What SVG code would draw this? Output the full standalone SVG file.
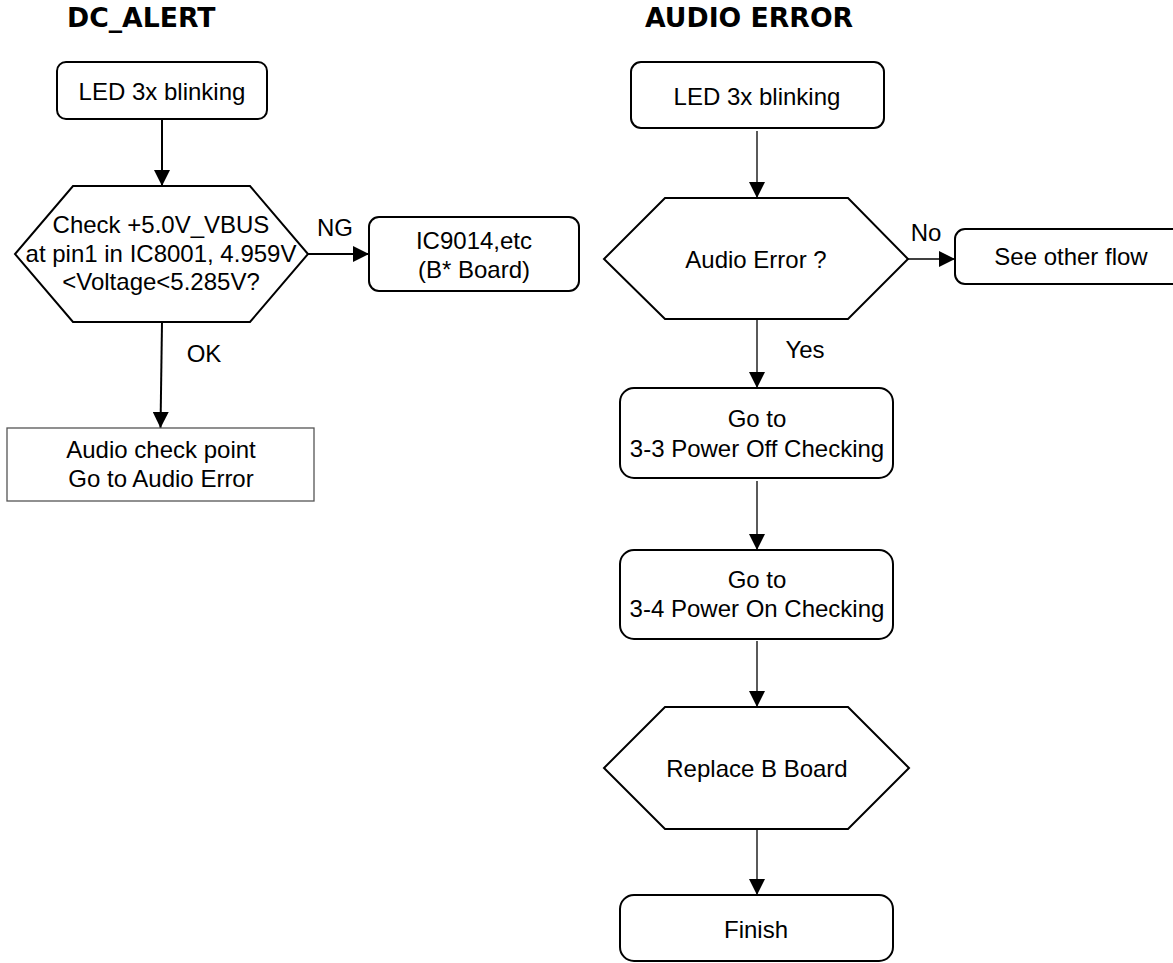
<svg xmlns="http://www.w3.org/2000/svg" width="1173" height="963" viewBox="0 0 1173 963">
<style>
.t{font-family:"Liberation Sans",Arial,sans-serif;font-size:24px;fill:#000;text-anchor:middle}
.h{font-family:"DejaVu Sans",Verdana,sans-serif;font-size:26.7px;font-weight:bold;fill:#000}
.n{fill:#fff;stroke:#000;stroke-width:2}
.c{fill:none;stroke:#000}
</style>
<defs>
<marker id="a" markerUnits="userSpaceOnUse" markerWidth="16" markerHeight="16" viewBox="0 0 16 16" refX="16" refY="8" orient="auto">
<path d="M0,0 L16,8 L0,16 Z" fill="#000"/>
</marker>
</defs>
<rect width="1173" height="963" fill="#fff"/>
<text class="h" x="67" y="27">DC_ALERT</text>
<text class="h" x="645" y="27">AUDIO ERROR</text>
<g id="connectors">
<line class="c" stroke-width="2" x1="162" y1="119" x2="162" y2="186" marker-end="url(#a)"/>
<line class="c" stroke-width="2" x1="308" y1="254" x2="369" y2="254" marker-end="url(#a)"/>
<line class="c" stroke-width="2" x1="162" y1="322" x2="160.5" y2="428" marker-end="url(#a)"/>
<line class="c" stroke-width="1.3" x1="757" y1="131" x2="757" y2="198" marker-end="url(#a)"/>
<line class="c" stroke-width="1.3" x1="908" y1="259" x2="955" y2="259" marker-end="url(#a)"/>
<line class="c" stroke-width="1.3" x1="757" y1="319" x2="757" y2="388" marker-end="url(#a)"/>
<line class="c" stroke-width="1.3" x1="757" y1="481" x2="757" y2="550" marker-end="url(#a)"/>
<line class="c" stroke-width="1.3" x1="757" y1="641" x2="757" y2="707" marker-end="url(#a)"/>
<line class="c" stroke-width="1.3" x1="757" y1="829" x2="757" y2="895" marker-end="url(#a)"/>
<text class="t" x="335" y="236">NG</text>
<text class="t" x="204" y="362">OK</text>
<text class="t" x="926" y="241">No</text>
<text class="t" x="805" y="358">Yes</text>
</g>
<g id="n1">
<rect class="n" x="57" y="62" width="210" height="57" rx="9"/>
<text class="t" x="162" y="100">LED 3x blinking</text>
</g>
<g id="n2">
<polygon class="n" points="73,186 250,186 308,254 250,322 73,322 15,254"/>
<text class="t" x="161" y="233">Check +5.0V_VBUS</text>
<text class="t" x="161" y="262">at pin1 in IC8001, 4.959V</text>
<text class="t" x="161" y="290">&lt;Voltage&lt;5.285V?</text>
</g>
<g id="n3">
<rect class="n" x="369" y="217" width="210" height="74" rx="10"/>
<text class="t" x="474" y="249">IC9014,etc</text>
<text class="t" x="474" y="278">(B* Board)</text>
</g>
<g id="n4">
<rect x="7" y="428" width="307" height="73" fill="#fff" stroke="#555" stroke-width="1.3"/>
<text class="t" x="161" y="458">Audio check point</text>
<text class="t" x="161" y="487">Go to Audio Error</text>
</g>
<g id="n5">
<rect class="n" x="631" y="62" width="253" height="66" rx="10"/>
<text class="t" x="757" y="105">LED 3x blinking</text>
</g>
<g id="n6">
<polygon class="n" points="665,198 848,198 908,259 848,319 665,319 604,259"/>
<text class="t" x="756" y="268">Audio Error ?</text>
</g>
<g id="n7">
<rect class="n" x="955" y="229" width="240" height="55" rx="10"/>
<text class="t" x="1071" y="265">See other flow</text>
</g>
<g id="n8">
<rect class="n" x="620" y="388" width="273" height="90" rx="14"/>
<text class="t" x="757" y="427">Go to</text>
<text class="t" x="757" y="457">3-3 Power Off Checking</text>
</g>
<g id="n9">
<rect class="n" x="620" y="550" width="273" height="89" rx="14"/>
<text class="t" x="757" y="588">Go to</text>
<text class="t" x="757" y="617">3-4 Power On Checking</text>
</g>
<g id="n10">
<polygon class="n" points="665,707 848,707 909,768 848,829 665,829 604,768"/>
<text class="t" x="757" y="777">Replace B Board</text>
</g>
<g id="n11">
<rect class="n" x="620" y="895" width="273" height="66" rx="14"/>
<text class="t" x="756" y="938">Finish</text>
</g>
</svg>
